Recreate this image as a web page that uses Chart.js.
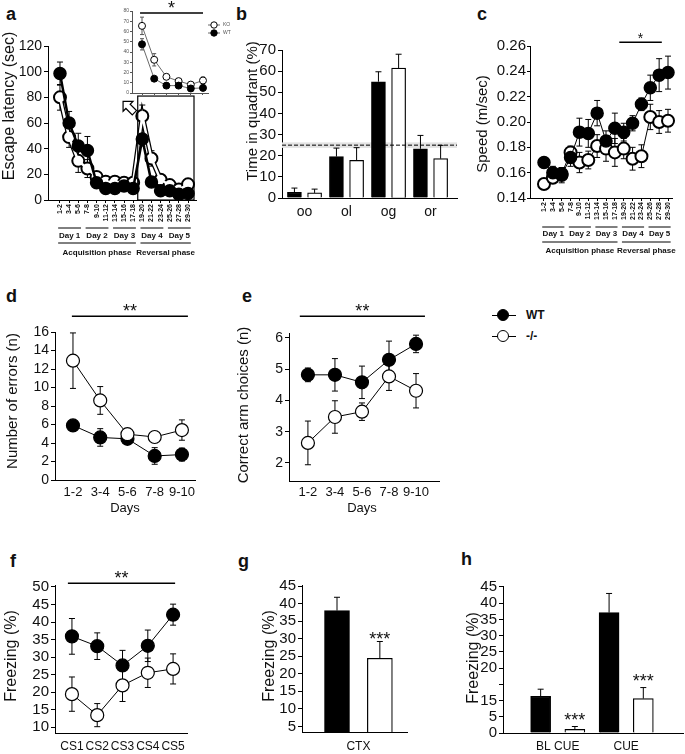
<!DOCTYPE html>
<html>
<head>
<meta charset="utf-8">
<title>Behaviour panels</title>
<script src="https://cdn.jsdelivr.net/npm/chart.js@4.4.1/dist/chart.umd.min.js"></script>
<style>
  html, body { margin: 0; padding: 0; background: #fff; }
  #fig { position: relative; width: 685px; height: 754px; overflow: hidden; font-family: Arial, "Liberation Sans", sans-serif; color: #111; }
  #fig canvas { position: absolute; left: 0; top: 0; }
  .tag { position: absolute; font-size: 18px; line-height: 18px; font-weight: bold; }
  .key { position: absolute; width: 70px; height: 16px; font-size: 12px; line-height: 14px; font-weight: bold; }
  .key b { position: absolute; top: 7px; left: 2px; height: 1px; width: 24px; background: #000; }
  .key i { position: absolute; top: 1px; left: 7px; width: 10px; height: 10px; border: 1.5px solid #000; border-radius: 50%; }
  .key span { position: absolute; left: 36px; top: 0; }
</style>
</head>
<body>
<div id="fig">
  <div class="tag" style="left:6px;top:5px">a</div>
  <div class="tag" style="left:236px;top:5px">b</div>
  <div class="tag" style="left:477px;top:5px">c</div>
  <div class="tag" style="left:6px;top:287px">d</div>
  <div class="tag" style="left:242px;top:287px">e</div>
  <div class="tag" style="left:10px;top:552px">f</div>
  <div class="tag" style="left:238px;top:552px">g</div>
  <div class="tag" style="left:461px;top:550px">h</div>
  <div class="key" style="left:490px;top:308px"><b></b><i style="background:#000"></i><span>WT</span></div>
  <div class="key" style="left:490px;top:329px"><b></b><i style="background:#fff"></i><span>-/-</span></div>
</div>
<script>
// ---- data ----
// a: water maze escape latency
const trialBlocks = ['1-2', '3-4', '5-6', '7-8', '9-10', '11-12', '13-14', '15-16', '17-18', '19-20', '21-22', '23-24', '25-26', '27-28', '29-30'];
const latencyWT = [98.5, 60, 42, 38.5, 13.5, 9, 9, 11, 9, 47.5, 14, 7.2, 7.2, 4.4, 5];
const latencyWTErr = [9, 9, 10, 11, 3, 2, 2, 2, 2, 5.5, 2, 1.5, 1.5, 1.5, 1.5];
const latencyKO = [80, 49, 30.5, 24.5, 18, 14.3, 14.3, 13.5, 13.5, 65.5, 32.4, 15.8, 11.6, 8.2, 12.2];
const latencyKOErr = [10, 8, 9, 7, 3, 2, 2, 2, 2, 8.5, 6, 2, 2, 2, 3.5];
const latencyTicks = [0, 20, 40, 60, 80, 100, 120];
const insetTicks = [0, 10, 20, 30, 40, 50, 60, 70, 80];
const dayNames = ['Day 1', 'Day 2', 'Day 3', 'Day 4', 'Day 5'];
const dayBlocks = [[0, 2], [3, 5], [6, 8], [9, 11], [12, 14]];
const phaseNames = ['Acquisition phase', 'Reversal phase'];
const phaseBlocks = [[0, 8], [9, 14]];

// b: probe trial
const quadrants = ['oo', 'ol', 'og', 'or'];
const quadWT = [2.7, 19.6, 55, 23.3];
const quadWTErr = [2, 4, 4.7, 6.3];
const quadKO = [2.4, 17.8, 61.4, 18.6];
const quadKOErr = [1.8, 6, 6.6, 6.3];
const quadTicks = [0, 10, 20, 30, 40, 50, 60, 70];
const chanceLevel = 25;

// c: swim speed
const speedWT = [0.168, 0.160, 0.158, 0.172, 0.192, 0.191, 0.207, 0.185, 0.195, 0.192, 0.199, 0.214, 0.227, 0.237, 0.239];
const speedWTErr = [0.004, 0.005, 0.006, 0.007, 0.011, 0.011, 0.010, 0.008, 0.012, 0.007, 0.006, 0.005, 0.010, 0.013, 0.013];
const speedKO = [0.151, 0.156, 0.159, 0.176, 0.168, 0.170, 0.181, 0.179, 0.176, 0.179, 0.171, 0.173, 0.204, 0.200, 0.201];
const speedKOErr = [0.003, 0.004, 0.005, 0.005, 0.008, 0.007, 0.009, 0.010, 0.011, 0.008, 0.009, 0.009, 0.010, 0.009, 0.009];
const speedTicks = [0.14, 0.16, 0.18, 0.20, 0.22, 0.24, 0.26];

// d, e: radial maze
const dayPairs = ['1-2', '3-4', '5-6', '7-8', '9-10'];
const errorsWT = [5.9, 4.6, 4.45, 2.6, 2.75];
const errorsWTErr = [0.3, 0.95, 0.4, 0.9, 0.7];
const errorsKO = [12.9, 8.6, 4.95, 4.65, 5.4];
const errorsKOErr = [3, 1.5, 0.3, 0.6, 1.1];
const errorTicks = [0, 2, 4, 6, 8, 10, 12, 14, 16];
const armWT = [4.82, 4.82, 4.58, 5.3, 5.81];
const armWTErr = [0.22, 0.52, 0.52, 0.6, 0.28];
const armKO = [2.64, 3.47, 3.64, 4.77, 4.31];
const armKOErr = [0.7, 0.52, 0.28, 0.45, 0.55];
const armTicks = [2, 3, 4, 5, 6];

// f, g, h: fear conditioning
const csLabels = ['CS1', 'CS2', 'CS3', 'CS4', 'CS5'];
const freezeWT = [35.9, 33.1, 27.6, 33.2, 42.1];
const freezeWTErr = [5.1, 3.8, 4.3, 4.5, 3];
const freezeKO = [19.4, 13.4, 21.9, 25.5, 26.6];
const freezeKOErr = [4.9, 3.3, 4.6, 4.2, 4.3];
const freezeTicks = [10, 15, 20, 25, 30, 35, 40, 45, 50];
const ctxLabels = ['CTX'];
const ctxWT = [38];
const ctxWTErr = [3.8];
const ctxKO = [24.4];
const ctxKOErr = [4.8];
const ctxTicks = [5, 10, 15, 20, 25, 30, 35, 40, 45];
const cueLabels = ['BL CUE', 'CUE'];
const cueWT = [11.3, 37.1];
const cueWTErr = [2.2, 5.9];
const cueKO = [1.1, 10.6];
const cueKOErr = [0.9, 3.4];
const cueTicks = [0, 5, 10, 15, 20, 25, 30, 35, 40, 45];
const cueTickLabels = ['0', '5', '15', '', '20', '25', '30', '35', '40', '45'];

// ---- helpers ----
const FONT = 'Arial, "Liberation Sans", sans-serif';
Chart.defaults.font.family = FONT;
Chart.defaults.color = '#111';
const W = 685, H = 754;
const fig = document.getElementById('fig');

function paintErrors(chart, o) {
  const ctx = chart.ctx, ys = chart.scales.y, cap = o.cap || 3;
  ctx.save();
  ctx.strokeStyle = o.color || '#000';
  ctx.lineWidth = o.width || 1;
  chart.data.datasets.forEach((ds, di) => {
    if (!ds.errors) return;
    chart.getDatasetMeta(di).data.forEach((el, i) => {
      const raw = ds.data[i];
      const v = typeof raw === 'number' ? raw : raw.y;
      const top = ys.getPixelForValue(v + ds.errors[i]);
      const bot = o.upOnly ? el.y : ys.getPixelForValue(v - ds.errors[i]);
      ctx.beginPath();
      ctx.moveTo(el.x, bot); ctx.lineTo(el.x, top);
      ctx.moveTo(el.x - cap, top); ctx.lineTo(el.x + cap, top);
      if (!o.upOnly) { ctx.moveTo(el.x - cap, bot); ctx.lineTo(el.x + cap, bot); }
      ctx.stroke();
    });
  });
  ctx.restore();
}
Chart.register({
  id: 'errorBars',
  beforeDatasetsDraw(chart, args, o) { if (o.under) paintErrors(chart, o); },
  afterDatasetsDraw(chart, args, o) { if (!o.under) paintErrors(chart, o); }
});

function text(ctx, s, x, y, size, o = {}) {
  ctx.save();
  ctx.font = (o.bold ? 'bold ' : '') + size + 'px ' + FONT;
  ctx.fillStyle = o.color || '#111';
  ctx.textAlign = o.align || 'center';
  ctx.textBaseline = o.base || 'middle';
  ctx.translate(x, y);
  if (o.rot) ctx.rotate(o.rot);
  ctx.fillText(s, 0, 0);
  ctx.restore();
}
function yTitle(ctx, s, x, y, size) { text(ctx, s, x, y, size, { rot: -Math.PI / 2 }); }
function rule(ctx, x1, x2, y, w, color) {
  ctx.save();
  ctx.strokeStyle = color || '#000';
  ctx.lineWidth = w || 1;
  ctx.beginPath(); ctx.moveTo(x1, y); ctx.lineTo(x2, y); ctx.stroke();
  ctx.restore();
}
// significance bar drawn in data units
function sig(ch, from, to, val, stars, size) {
  const x = ch.scales.x, y = ch.scales.y;
  const x0 = x.getPixelForValue(from), x1 = x.getPixelForValue(to), py = y.getPixelForValue(val);
  rule(ch.ctx, x0, x1, py, 1.5);
  text(ch.ctx, stars, (x0 + x1) / 2, py + 1, size, { base: 'alphabetic' });
}
function dayScale(ch, y1, yText, y2, yPhase) {
  const c = ch.ctx, px = v => ch.scales.x.getPixelForValue(v);
  dayBlocks.forEach(([a, b], k) => {
    const x0 = px(a - 0.2), x1 = px(b + 0.3);
    rule(c, x0, x1, y1, 1);
    text(c, dayNames[k], (x0 + x1) / 2, yText, 8, { bold: true });
  });
  phaseBlocks.forEach(([a, b], k) => {
    const x0 = px(a - 0.2), x1 = px(b + 0.3);
    rule(c, x0, x1, y2, 1);
    text(c, phaseNames[k], (x0 + x1) / 2, yPhase, 8, { bold: true });
  });
}

function yAxis(min, max, ticks, o = {}) {
  const col = o.color || '#000';
  return {
    type: 'linear', position: 'left', min, max, bounds: 'data',
    afterFit: s => { s.width = 40; },
    afterBuildTicks: s => { s.ticks = ticks.map(v => ({ value: v })); },
    border: { display: true, color: col, width: 1 },
    grid: { display: true, drawOnChartArea: false, drawTicks: true, tickLength: o.tl ?? 4, color: col, lineWidth: 1 },
    ticks: {
      autoSkip: false, color: o.color || '#111', padding: o.pad ?? 2, font: { size: o.size || 15 },
      callback: (v, i) => o.labels ? o.labels[i] : (o.fmt ? o.fmt(v) : String(v))
    }
  };
}
// the x scale takes all the room below the plot, so its labels are never clipped
function xAxis(min, max, labels, o = {}) {
  const col = o.color || '#000';
  return {
    type: 'linear', position: 'bottom', min, max, bounds: 'data', offset: false,
    afterFit: s => { s.height = H - s.chart.options.layout.plotBottom; },
    afterBuildTicks: s => { s.ticks = labels.map((_, i) => ({ value: i })); },
    border: { display: true, color: col, width: 1 },
    grid: { display: true, drawOnChartArea: false, offset: false, drawTicks: !!o.tl, tickLength: o.tl || 0, color: col, lineWidth: 1 },
    ticks: {
      autoSkip: false, minRotation: o.rot || 0, maxRotation: o.rot || 0, padding: o.pad ?? 4,
      color: o.color || '#111', font: { size: o.size || 13, weight: o.bold ? 'bold' : 'normal' },
      callback: (v, i) => o.blank ? '' : labels[i]
    }
  };
}
function opts(L, T, R, B, scales, err) {
  return {
    responsive: false, animation: false, events: [],
    layout: { autoPadding: false, plotBottom: B, padding: { left: L - 40, top: T, right: W - R, bottom: 0 } },
    scales,
    plugins: { legend: { display: false }, tooltip: { enabled: false }, errorBars: err || {} }
  };
}
const pts = vals => vals.map((v, i) => ({ x: i, y: v }));
function lineSet(vals, errs, filled, r, pbw, lw, color) {
  return {
    type: 'line', data: pts(vals), errors: errs,
    borderColor: color || '#000', borderWidth: lw, tension: 0, fill: false, clip: false,
    pointRadius: r, pointBorderWidth: pbw, pointBorderColor: '#000',
    pointBackgroundColor: filled ? '#000' : '#fff'
  };
}
function barSet(vals, errs, filled, shift, thick) {
  return {
    type: 'bar', data: vals.map((v, i) => ({ x: i + shift, y: v })), errors: errs,
    backgroundColor: filled ? '#000' : '#fff', borderColor: '#000', borderWidth: 1.2,
    barThickness: thick, grouped: false
  };
}
function addChart(cfg) {
  const c = document.createElement('canvas');
  c.width = W; c.height = H;
  fig.appendChild(c);
  return new Chart(c, cfg);
}

// ---- a ----
addChart({
  type: 'line',
  data: { datasets: [
    lineSet(latencyWT, latencyWTErr, true, 6, 1.5, 2.5),
    { type: 'line', data: pts(latencyKO), borderColor: '#fff', borderWidth: 2.5, pointRadius: 0, fill: false, clip: false },
    lineSet(latencyKO, latencyKOErr, false, 6, 2, 5)
  ] },
  options: opts(48, 46, 196, 200, {
    x: xAxis(-1.31, 14.87, trialBlocks, { rot: 90, size: 7, bold: true, tl: 3, pad: 1 }),
    y: yAxis(0, 120, latencyTicks, { size: 14 })
  }, { under: true, cap: 3 }),
  plugins: [{ id: 'decoA', afterDraw(ch) {
    const c = ch.ctx, x = ch.scales.x, y = ch.scales.y;
    yTitle(c, 'Escape latency (sec)', 10, 106, 16);
    const bx = x.getPixelForValue(8.5), by = y.getPixelForValue(81);
    c.save();
    c.strokeStyle = '#000'; c.lineWidth = 1.2;
    c.strokeRect(bx, by, ch.chartArea.right - 2 - bx, y.getPixelForValue(0) - by);
    c.translate(bx - 9, by + 11);
    c.rotate(Math.PI / 4);
    c.beginPath();
    [[-8, 0], [-1, -7], [-1, -3], [8, -3], [8, 3], [-1, 3], [-1, 7]].forEach((p, k) => k ? c.lineTo(p[0], p[1]) : c.moveTo(p[0], p[1]));
    c.closePath();
    c.fillStyle = '#fff'; c.fill(); c.stroke();
    c.restore();
    dayScale(ch, 228, 236, 243, 253);
  } }]
});

// ---- a inset ----
addChart({
  type: 'line',
  data: { datasets: [
    lineSet(latencyWT.slice(9), latencyWTErr.slice(9), true, 3.5, 1, 0.8, '#444'),
    lineSet(latencyKO.slice(9), latencyKOErr.slice(9), false, 3.5, 1, 0.8, '#444')
  ] },
  options: opts(132, 11, 208, 93, {
    x: xAxis(-0.82, 5.41, trialBlocks.slice(9), { blank: true, tl: 2, color: '#555', pad: 0 }),
    y: yAxis(0, 80, insetTicks, { size: 5, tl: 2, pad: 1, color: '#555' })
  }, { under: true, cap: 2, color: '#555' }),
  plugins: [{ id: 'decoInset', afterDraw(ch) {
    const c = ch.ctx;
    sig(ch, -0.16, 5, 78, '*', 18);
    [['KO', 25, '#fff'], ['WT', 33, '#000']].forEach(([s, yy, fillc]) => {
      rule(c, 208, 220, yy, 0.8, '#444');
      c.save();
      c.beginPath(); c.arc(214, yy, 3.2, 0, Math.PI * 2);
      c.fillStyle = fillc; c.fill(); c.strokeStyle = '#000'; c.lineWidth = 1; c.stroke();
      c.restore();
      text(c, s, 223, yy, 5, { align: 'left', color: '#555' });
    });
  } }]
});

// ---- b ----
addChart({
  type: 'bar',
  data: { datasets: [
    barSet(quadWT, quadWTErr, true, -0.24, 14),
    barSet(quadKO, quadKOErr, false, 0.24, 14)
  ] },
  options: opts(282, 50, 457, 198, {
    x: xAxis(-0.536, 3.63, quadrants, { size: 14, pad: 6 }),
    y: yAxis(0, 70, quadTicks, { size: 15 })
  }, { upOnly: true, cap: 3 }),
  plugins: [{ id: 'decoB',
    beforeDatasetsDraw(ch) {
      const y = ch.scales.y, a = ch.chartArea;
      ch.ctx.save();
      ch.ctx.fillStyle = '#e2e2e2';
      ch.ctx.fillRect(a.left, y.getPixelForValue(chanceLevel + 1.3), a.right - a.left, y.getPixelForValue(chanceLevel - 1.3) - y.getPixelForValue(chanceLevel + 1.3));
      ch.ctx.restore();
    },
    afterDraw(ch) {
      const c = ch.ctx, a = ch.chartArea, py = ch.scales.y.getPixelForValue(chanceLevel);
      c.save();
      c.setLineDash([4, 2]);
      rule(c, a.left, a.right, py, 1);
      c.restore();
      yTitle(c, 'Time in quadrant (%)', 253, 111, 15);
    } }]
});

// ---- c ----
addChart({
  type: 'line',
  data: { datasets: [
    lineSet(speedWT, speedWTErr, true, 6, 1.5, 1),
    lineSet(speedKO, speedKOErr, false, 6, 2, 1)
  ] },
  options: opts(530, 46, 672, 198, {
    x: xAxis(-1.58, 14.45, trialBlocks, { rot: 90, size: 7, bold: true, tl: 3, pad: 1 }),
    y: yAxis(0.14, 0.26, speedTicks, { size: 15, tl: 3, pad: 1, fmt: v => v.toFixed(2) })
  }, { under: true, cap: 3 }),
  plugins: [{ id: 'decoC', afterDraw(ch) {
    yTitle(ch.ctx, 'Speed (m/sec)', 483, 124, 15);
    sig(ch, 8.5, 13.3, 0.263, '*', 14);
    dayScale(ch, 227, 234, 242, 251);
  } }]
});

// ---- d ----
addChart({
  type: 'line',
  data: { datasets: [
    lineSet(errorsKO, errorsKOErr, false, 6.5, 1.2, 1),
    lineSet(errorsWT, errorsWTErr, true, 6.5, 1.2, 1)
  ] },
  options: opts(55, 332, 195, 480, {
    x: xAxis(-0.66, 4.48, dayPairs, { size: 13, pad: 5 }),
    y: yAxis(0, 16, errorTicks, { size: 14 })
  }, { under: true, cap: 3 }),
  plugins: [{ id: 'decoD', afterDraw(ch) {
    yTitle(ch.ctx, 'Number of errors (n)', 13, 401, 15);
    sig(ch, -0.04, 4.22, 17.7, '**', 18);
    text(ch.ctx, 'Days', 125, 508, 13);
  } }]
});

// ---- e ----
addChart({
  type: 'line',
  data: { datasets: [
    lineSet(armKO, armKOErr, false, 6.5, 1.2, 1),
    lineSet(armWT, armWTErr, true, 6.5, 1.2, 1)
  ] },
  options: opts(289, 333, 439, 481, {
    x: xAxis(-0.70, 4.85, dayPairs, { size: 13, pad: 4 }),
    y: yAxis(1.42, 6.16, armTicks, { size: 14 })
  }, { under: true, cap: 3 }),
  plugins: [{ id: 'decoE', afterDraw(ch) {
    yTitle(ch.ctx, 'Correct arm choices (n)', 244, 405, 15);
    sig(ch, -0.3, 4.33, 6.7, '**', 18);
    text(ch.ctx, 'Days', 362, 508, 13);
  } }]
});

// ---- f ----
addChart({
  type: 'line',
  data: { datasets: [
    lineSet(freezeKO, freezeKOErr, false, 6.5, 1.2, 1),
    lineSet(freezeWT, freezeWTErr, true, 6.5, 1.2, 1)
  ] },
  options: opts(55, 585, 187, 733, {
    x: xAxis(-0.67, 4.55, csLabels, { size: 12, pad: 6 }),
    y: yAxis(8.3, 50.57, freezeTicks, { size: 15 })
  }, { under: true, cap: 3 }),
  plugins: [{ id: 'decoF', afterDraw(ch) {
    yTitle(ch.ctx, 'Freezing (%)', 12, 656, 16);
    sig(ch, -0.16, 4.08, 51.1, '**', 18);
  } }]
});

// ---- g ----
addChart({
  type: 'bar',
  data: { datasets: [
    barSet(ctxWT, ctxWTErr, true, -0.3, 25),
    barSet(ctxKO, ctxKOErr, false, 0.3, 25)
  ] },
  options: opts(302, 585, 407, 732, {
    x: xAxis(-0.79, 0.68, ctxLabels, { size: 12, pad: 7 }),
    y: yAxis(3.4, 45.3, ctxTicks, { size: 15 })
  }, { upOnly: true, cap: 3 }),
  plugins: [{ id: 'decoG', afterDraw(ch) {
    yTitle(ch.ctx, 'Freezing (%)', 270, 656, 16);
    const el = ch.getDatasetMeta(1).data[0];
    text(ch.ctx, '***', el.x, ch.scales.y.getPixelForValue(ctxKO[0] + ctxKOErr[0]) + 4, 18, { base: 'alphabetic' });
  } }]
});

// ---- h ----
addChart({
  type: 'bar',
  data: { datasets: [
    barSet(cueWT, cueWTErr, true, -0.25, 20),
    barSet(cueKO, cueKOErr, false, 0.25, 20)
  ] },
  options: opts(503, 586, 683, 733, {
    x: xAxis(-0.80, 1.83, cueLabels, { size: 12, pad: 6 }),
    y: yAxis(0, 45.3, cueTicks, { size: 15, labels: cueTickLabels })
  }, { upOnly: true, cap: 3 }),
  plugins: [{ id: 'decoH', afterDraw(ch) {
    yTitle(ch.ctx, 'Freezing (%)', 474, 658, 16);
    ch.getDatasetMeta(1).data.forEach((el, i) => {
      text(ch.ctx, '***', el.x, ch.scales.y.getPixelForValue(cueKO[i] + cueKOErr[i]) - 1, 18, { base: 'alphabetic' });
    });
  } }]
});
</script>
</body>
</html>
